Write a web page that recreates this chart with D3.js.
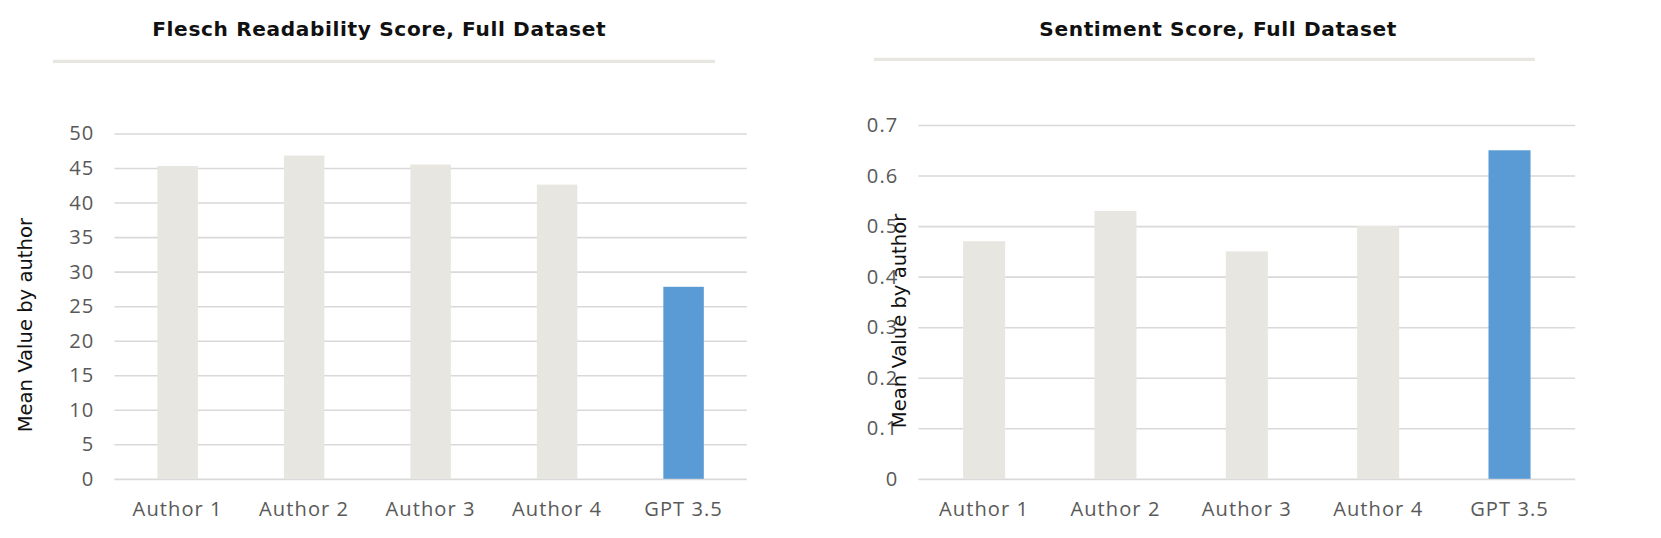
<!DOCTYPE html>
<html><head><meta charset="utf-8">
<script src="https://cdn.jsdelivr.net/npm/d3@7"></script>
<style>body{margin:0;background:#fff}text{font-family:"Open Sans",sans-serif}</style>
</head><body><svg id="c" width="1661" height="538"></svg>
<script>
const categories = ["Author 1","Author 2","Author 3","Author 4","GPT 3.5"];
const fleschValues = [45.3, 46.8, 45.5, 42.6, 27.8];
const sentimentValues = [0.47, 0.53, 0.45, 0.50, 0.65];
const fleschTicks = [0,5,10,15,20,25,30,35,40,45,50];
const sentimentTicks = [0,0.1,0.2,0.3,0.4,0.5,0.6,0.7];
const colors = ["#e8e6e0","#e8e6e0","#e8e6e0","#e8e6e0","#5b9bd5"];
const svg = d3.select("#c").append("g").attr("transform",`scale(${1661/1568})`);

function chart(o){
  const g = svg.append("g");
  g.append("text").attr("x",o.tx).attr("y",34).attr("text-anchor","middle")
    .style("font-family","DejaVu Sans").style("font-weight","bold").style("font-size","19px").style("letter-spacing","0.6px").attr("fill","#111").text(o.title);
  g.append("line").attr("x1",o.lx1).attr("x2",o.lx2).attr("y1",o.ly).attr("y2",o.ly).attr("stroke","#e8e6e0").attr("stroke-width",3);
  const y = d3.scaleLinear().domain([0,o.max]).range([452,o.top]);
  const x = d3.scaleBand().domain(categories).range([o.x0,o.x1]).paddingInner(0.68).paddingOuter(0.34);
  const ax = g.append("g").attr("transform",`translate(${o.x0},0)`)
    .call(d3.axisLeft(y).tickValues(o.ticks).tickSize(-(o.x1-o.x0)).tickFormat(o.fmt).tickPadding(19));
  ax.select(".domain").remove();
  ax.selectAll("line").attr("stroke","#d9d9d9").attr("stroke-width",1.5);
  ax.selectAll("text").attr("fill","#595959").style("font-size","19px").style("letter-spacing","1px");
  g.selectAll("rect.b").data(o.values).join("rect").attr("class","b")
    .attr("x",(d,i)=>x(categories[i])).attr("width",x.bandwidth())
    .attr("y",d=>y(d)).attr("height",d=>452-y(d)).attr("fill",(d,i)=>colors[i]);
  const bx = g.append("g").attr("transform","translate(0,452)").call(d3.axisBottom(x).tickSize(0).tickPadding(22));
  bx.select(".domain").remove();
  bx.selectAll("text").attr("fill","#595959").style("font-size","19px").style("letter-spacing","1px");
  g.append("text").attr("transform",`translate(${o.yx},${(452+o.top)/2+18}) rotate(-90)`).attr("text-anchor","middle")
    .style("font-family","DejaVu Sans").style("font-size","18.5px").attr("fill","#111").text("Mean Value by author");
}
chart({title:"Flesch Readability Score, Full Dataset",tx:358,lx1:50,lx2:675,ly:58,max:50,top:126,x0:108,x1:705,
  ticks:fleschTicks,fmt:d3.format("d"),values:fleschValues,yx:30});
chart({title:"Sentiment Score, Full Dataset",tx:1150,lx1:825,lx2:1449,ly:56,max:0.7,top:118,x0:867,x1:1487,
  ticks:sentimentTicks,fmt:d=>d===0?"0":d3.format(".1f")(d),values:sentimentValues,yx:855});
</script></body></html>
